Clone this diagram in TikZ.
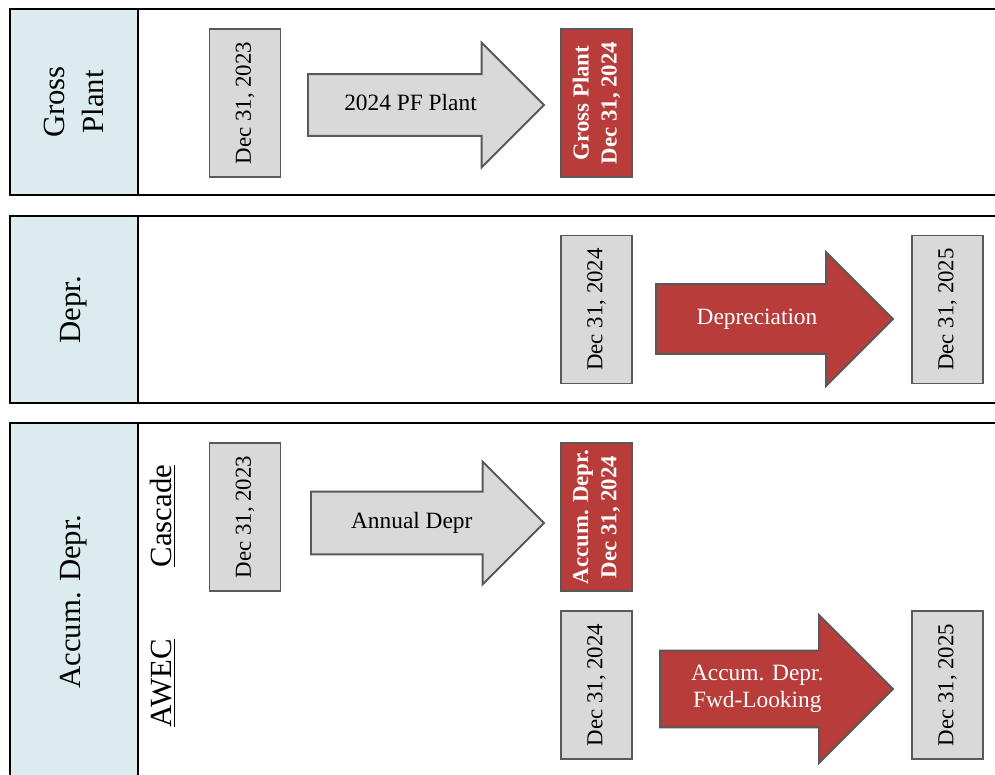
\documentclass[tikz,border=0pt]{standalone}
\usepackage{fontspec}
\setmainfont{Liberation Serif}
\usetikzlibrary{shapes.arrows,positioning}

\definecolor{headcolor}{HTML}{DBEBEE}
\definecolor{boxcolor}{HTML}{D9D9D9}
\definecolor{edgecolor}{HTML}{595959}
\definecolor{redcolor}{HTML}{B83C3A}

\begin{document}
\begin{tikzpicture}
    [x=0.02cm, y=-0.02cm,
    % Styles
    panel/.style={draw=black, line width=1.6pt},
    header/.style={draw=black, line width=1.4pt, fill=headcolor, rotate=90,
      minimum height=2.56cm, inner sep=0pt, align=center,
      font=\fontsize{17.5}{22.7}\selectfont},
    datebox/.style={draw=edgecolor, line width=1.1pt, fill=boxcolor, rotate=90,
      minimum width=2.96cm, minimum height=1.42cm, inner sep=0pt,
      font=\fontsize{13}{16}\selectfont},
    totalbox/.style={datebox, fill=redcolor, text=white, align=center,
      font=\fontsize{13}{16}\selectfont\bfseries},
    flowarrow/.style={single arrow, draw=edgecolor, line width=1.1pt, fill=boxcolor,
      anchor=tail, inner xsep=0pt, text height=9pt, text depth=3pt,
      font=\fontsize{13.3}{15.3}\selectfont},
    redarrow/.style={flowarrow, fill=redcolor, text=white},
    method/.style={rotate=90, font=\fontsize{17.5}{21}\selectfont}]

    % Frame of the picture
    \useasboundingbox (0,0) rectangle (995,775);
    \clip (0,0) rectangle (995,775);

    % Panels
    \draw[panel] (10,9) rectangle (1010,195);
    \draw[panel] (10,216) rectangle (1010,403);
    \draw[panel] (10,423) rectangle (1010,800);
    \node[header, minimum width=3.72cm] (grosshead) at (74,102) {Gross\\Plant};
    \node[header, minimum width=3.74cm] (deprhead) at (74,309.5) {Depr.};
    \node[header, minimum width=7.14cm] (accumhead) at (74,601.5) {Accum. Depr.};

    % Gross plant
    \node[datebox] (gross23) at (245,103) {Dec 31, 2023};
    \node[flowarrow, minimum height=4.72cm, single arrow head extend=0.63cm, inner ysep=11pt]
      (pfplant) at (307,105) {2024 PF Plant};
    \node[totalbox] (gross24) at (596.5,103) {Gross Plant\\Dec 31, 2024};

    % Depreciation
    \node[datebox] (depr24) at (596.5,309.5) {Dec 31, 2024};
    \node[redarrow, minimum height=4.74cm, single arrow head extend=0.64cm, inner ysep=13.3pt]
      (deprarrow) at (655,319) {Depreciation};
    \node[datebox] (depr25) at (947.5,309.5) {Dec 31, 2025};

    % Accumulated depreciation
    \node[method] (cascade) at (163,516) {\underline{Cascade}};
    \node[method] (awec) at (163,683) {\underline{AWEC}};

    \node[datebox] (accum23) at (245,517) {Dec 31, 2023};
    \node[flowarrow, minimum height=4.66cm, single arrow head extend=0.6cm, inner ysep=11.3pt]
      (annual) at (310,523) {Annual Depr};
    \node[totalbox] (accum24) at (596.5,517) {Accum. Depr.\\Dec 31, 2024};

    \node[datebox] (awec24) at (596.5,685) {Dec 31, 2024};
    \node[redarrow, minimum height=4.66cm, single arrow head extend=0.71cm, inner ysep=7.8pt,
      text height=, text depth=, align=center]
      (fwdlooking) at (659,689) {Accum. Depr.\\Fwd-Looking};
    \node[datebox] (awec25) at (947.5,685) {Dec 31, 2025};
\end{tikzpicture}
\end{document}
